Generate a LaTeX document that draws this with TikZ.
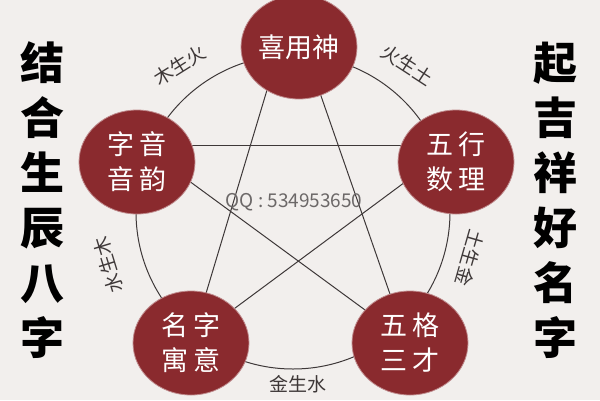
\documentclass[tikz,border=0pt]{standalone}
\usepackage{fontspec}
\setmainfont{Noto Sans CJK SC}
\usetikzlibrary{shapes.geometric}
\definecolor{bg}{HTML}{F2EFED}
\definecolor{wine}{HTML}{8A2A2E}
\definecolor{ink}{HTML}{3E3838}
\definecolor{qq}{HTML}{6C6868}
\begin{document}
\begin{tikzpicture}[x=1pt,y=-1pt,
  wnode/.style={ellipse, fill=wine, draw=wine!55!white, line width=0.8pt, minimum width=116pt, minimum height=104pt, inner sep=0pt, text=white, font=\fontsize{27}{35}\selectfont, align=center},
  edge/.style={draw=ink, line width=1pt},
  lbl/.style={text=ink, font=\fontsize{19}{19}\selectfont, inner sep=0pt},
  side/.style={text=black, font=\fontsize{44}{55}\selectfont\bfseries, align=center, inner sep=0pt}]
\fill[bg] (0,0) rectangle (600,400);
\useasboundingbox (0,0) rectangle (600,400);
% ring
\node[circle, minimum size=314pt, draw=ink, line width=1pt, inner sep=0pt] (ring) at (293,212) {};
% star end points
\coordinate (sL) at (140,145);
\coordinate (sR) at (455,145);
\coordinate (sT1) at (279,50);
\coordinate (sT2) at (305,50);
\coordinate (sBL) at (192,340);
\coordinate (sBR) at (406,340);
\draw[edge] (sL) -- (sR);
\draw[edge] (sT1) -- (sBL);
\draw[edge] (sT2) -- (sBR);
\draw[edge] (sL) -- (sBR);
\draw[edge] (sR) -- (sBL);
% nodes
\node[wnode] (top) at (299,47) {喜用神};
\node[wnode] (left) at (137,162) {字\,音\\音\,韵};
\node[wnode] (right) at (456,162) {五\,行\\数\,理};
\node[wnode] (bl) at (191,343) {名\,字\\寓\,意};
\node[wnode] (br) at (410,343) {五\,格\\三\,才};
% labels
\node[lbl, rotate=32] (l1) at (180,65) {木生火};
\node[lbl, rotate=-33] (l2) at (407,65) {火生土};
\node[lbl, rotate=-106] (l3) at (470,258) {土生金};
\node[lbl] (l4) at (298,384) {金生水};
\node[lbl, rotate=107] (l5) at (108,265) {水生木};
% qq
\node[text=qq, font=\fontsize{19}{19}\selectfont, inner sep=0pt] (qq) at (294,202) {QQ : 534953650};
% side texts
\node[side] (lt) at (42,200) {结\\合\\生\\辰\\八\\字};
\node[side] (rt) at (555,200) {起\\吉\\祥\\好\\名\\字};
\end{tikzpicture}
\end{document}
